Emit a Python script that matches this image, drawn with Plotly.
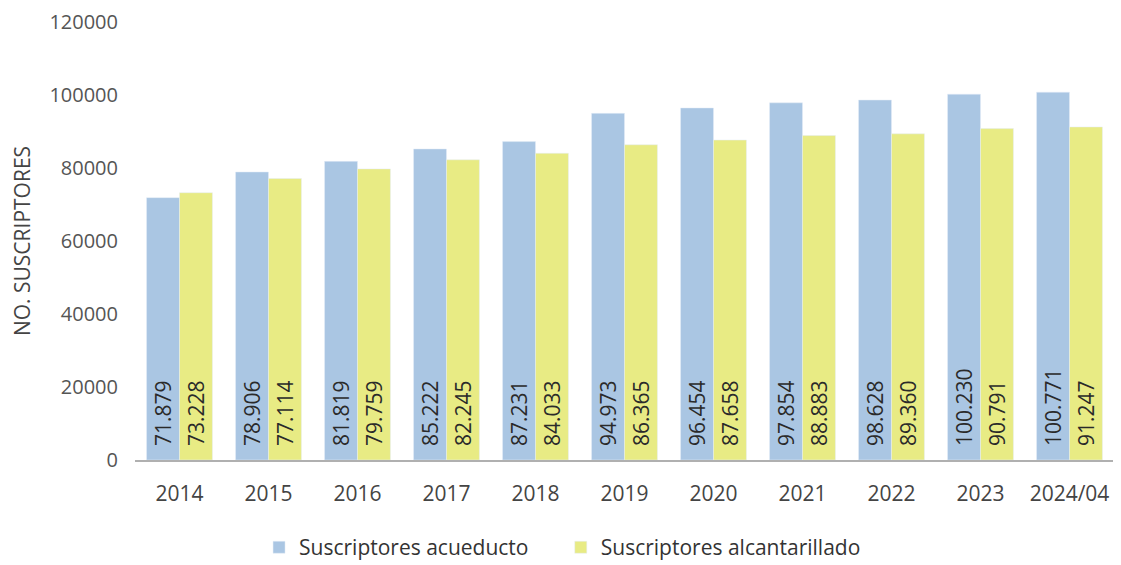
import plotly.graph_objects as go

years = ["2014", "2015", "2016", "2017", "2018", "2019", "2020", "2021", "2022", "2023", "2024/04"]
acueducto = [71879, 78906, 81819, 85222, 87231, 94973, 96454, 97854, 98628, 100230, 100771]
alcantarillado = [73228, 77114, 79759, 82245, 84033, 86365, 87658, 88883, 89360, 90791, 91247]
y_ticks = [0, 20000, 40000, 60000, 80000, 100000, 120000]
series_names = ["Suscriptores acueducto", "Suscriptores alcantarillado"]

PAD = "\u00a0\u00a0"
LEGEND_GAP = "\u00a0" * 5

def fmt(v):
    return PAD + f"{v:,}".replace(",", ".")

font_family = "Open Sans, Liberation Sans, sans-serif"

fig = go.Figure()
fig.add_trace(go.Bar(
    name=series_names[0] + LEGEND_GAP, x=years, y=acueducto,
    marker=dict(color="#aac6e3"),
    text=[fmt(v) for v in acueducto], textposition="inside",
    insidetextanchor="start", textangle=-90, constraintext="none",
    textfont=dict(size=21, color="#2a2a2a", family=font_family),
))
fig.add_trace(go.Bar(
    name=series_names[1], x=years, y=alcantarillado,
    marker=dict(color="#e8eb84"),
    text=[fmt(v) for v in alcantarillado], textposition="inside",
    insidetextanchor="start", textangle=-90, constraintext="none",
    textfont=dict(size=21, color="#2a2a2a", family=font_family),
))

fig.update_layout(
    width=1121, height=565,
    barmode="group", bargap=0.26, bargroupgap=0,
    plot_bgcolor="white", paper_bgcolor="white",
    margin=dict(l=127, r=15, t=14, b=113, autoexpand=False),
    font=dict(family=font_family, color="#555555", size=21),
    uniformtext=dict(mode=False),
    legend=dict(orientation="h", x=0.1267, xanchor="left", y=-0.20, yanchor="middle",
                font=dict(size=21, color="#333333"), itemwidth=30,
                traceorder="normal"),
    xaxis=dict(showline=True, linecolor="#b0b0b0", linewidth=1.5, ticks="",
               tickfont=dict(size=21, color="#444444"), ticklabelstandoff=14),
    yaxis=dict(range=[0, 120000], tickvals=y_ticks, ticktext=[str(v) for v in y_ticks],
               showgrid=False, zeroline=False, showline=False, ticks="",
               tickfont=dict(size=20, color="#555555"), ticklabelstandoff=16,
               ticklabeloverflow="allow",
               title=dict(text="NO. SUSCRIPTORES", font=dict(size=21, color="#444444"), standoff=15)),
)

fig.write_html("out.html")
